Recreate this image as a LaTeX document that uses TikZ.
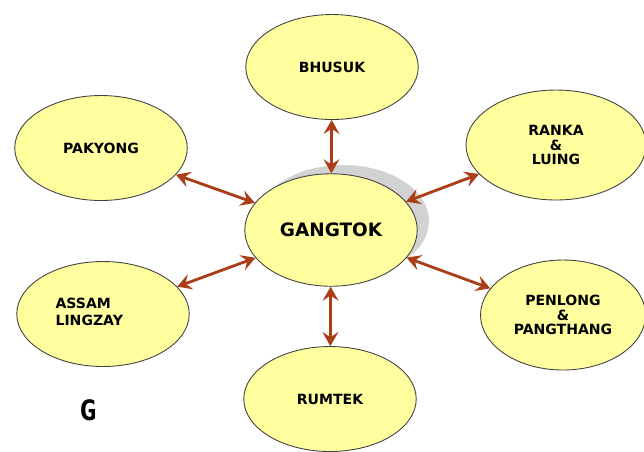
\documentclass[tikz,border=0pt]{standalone}
\usepackage{fontspec}
\setsansfont{DejaVu Sans}
\setmonofont{DejaVu Sans Mono}
\usetikzlibrary{shapes.geometric,arrows.meta}
\definecolor{lugar}{RGB}{255,255,160}
\definecolor{seta}{RGB}{170,62,22}
\begin{document}
\begin{tikzpicture}[
  x=0.02cm, y=-0.02cm,
  font=\sffamily\bfseries\fontsize{8}{8.2}\selectfont,
  loc/.style={ellipse, draw=black!75, line width=0.5pt, fill=lugar, minimum width=3.45cm, minimum height=2.1cm, inner sep=0pt, align=center},
  lig/.style={draw=seta, line width=1.6pt, {Stealth[length=8pt, width=9pt, inset=3pt]}-{Stealth[length=8pt, width=9pt, inset=3pt]}}
]
\useasboundingbox (0,0) rectangle (644,451);
% sombra do centro
\fill[gray!35] (343,221) ellipse [x radius=1.72cm, y radius=1.12cm];
% lugares
\node[loc, minimum height=2.25cm, font=\sffamily\bfseries\fontsize{10.5}{11}\selectfont] (gang) at (331,230) {GANGTOK};
\node[loc] (bhu) at (332,67) {BHUSUK};
\node[loc] (pak) at (101,148) {PAKYONG};
\node[loc, minimum width=3.6cm, minimum height=2.2cm] (ran) at (556,145) {RANKA\\\&\\LUING};
\node[loc, minimum width=3.3cm, minimum height=2.2cm] (pen) at (563,315) {PENLONG\\\&\\PANGTHANG};
\node[loc] (ass) at (103,314) {\begin{tabular}{@{}l@{}}ASSAM\\[1.5pt]LINGZAY\end{tabular}\kern0.55cm};
\node[loc] (rum) at (330,399) {RUMTEK};
% ligacoes
\foreach \a in {bhu, pak, ran, pen, ass, rum}
  \draw[lig] (\a) -- (gang);
% legenda
\node[font=\ttfamily\bfseries\fontsize{16}{16}\selectfont] (g) at (88,410) {G};
\end{tikzpicture}
\end{document}
